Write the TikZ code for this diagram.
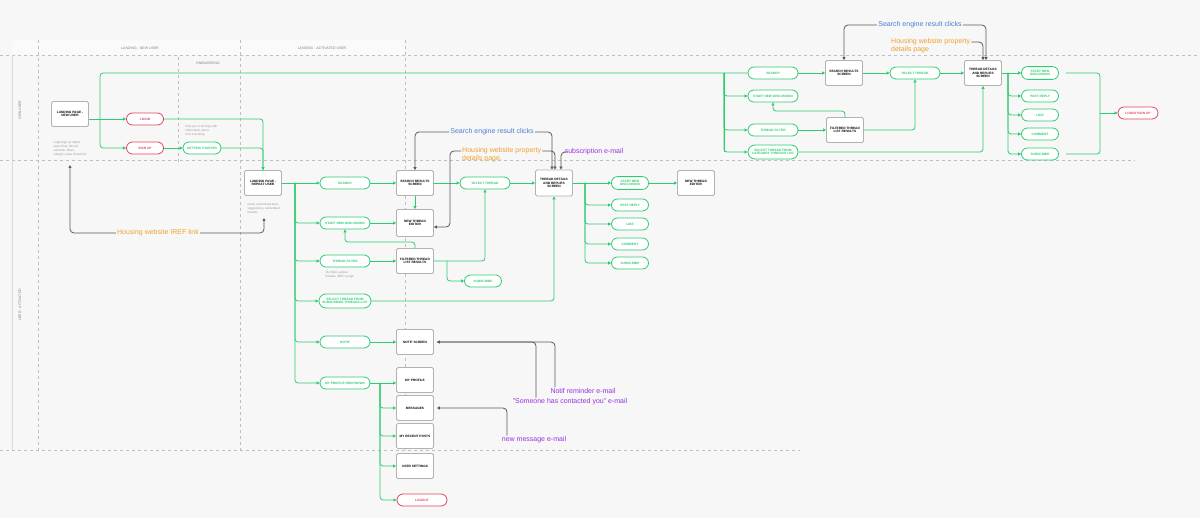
\documentclass[tikz,border=0pt]{standalone}
\usepackage{fontspec}
\setmainfont{Liberation Sans}
\usetikzlibrary{arrows.meta}
\definecolor{gr}{HTML}{2ECC71}
\definecolor{rd}{HTML}{E0455A}
\definecolor{bl}{HTML}{4A7FD6}
\definecolor{og}{HTML}{F0A030}
\definecolor{pu}{HTML}{9B30E0}
\definecolor{bg}{HTML}{F7F7F7}
\begin{document}
\begin{tikzpicture}[x=1pt,y=-1pt,
 tiny/.style={font=\fontsize{3.2}{3.8}\selectfont\bfseries},
 box/.style={draw=black!30,line width=0.8pt,fill=white,rounded corners=1.5pt,minimum width=37pt,minimum height=25pt,align=center,tiny,text=black},
 pill/.style={draw=gr,line width=0.8pt,fill=white,rounded corners=6pt,minimum width=50pt,minimum height=12pt,align=center,tiny,text=gr},
 rpill/.style={pill,draw=rd,text=rd},
 g/.style={draw=gr,line width=0.8pt,rounded corners=3pt,-{Triangle[length=3pt,width=3pt]}},
 gn/.style={draw=gr,line width=0.8pt,rounded corners=3pt},
 a/.style={draw=black!65,line width=0.8pt,rounded corners=4pt,-{Triangle[length=3pt,width=3pt]}},
 an/.style={draw=black!65,line width=0.8pt,rounded corners=4pt},
 lane/.style={draw=black!25,dashed,line width=0.5pt},
 note/.style={font=\fontsize{3}{4}\selectfont,text=black!40,align=left,anchor=north west},
 hdr/.style={font=\fontsize{3.5}{4}\selectfont,text=black!50},
 ann/.style={font=\fontsize{7}{8}\selectfont,inner sep=1pt}]
\fill[bg] (0,0) rectangle (1200,518);
\useasboundingbox (0,0) rectangle (1200,518);
% lanes
\fill[white!40!bg] (12,40) rectangle (405,55);
\draw[lane] (0,55) -- (1200,55);
\draw[lane] (0,160) -- (1135,160);
\draw[lane] (0,450) -- (800,450);
\draw[lane] (38,40) -- (38,450);
\draw[lane] (240,40) -- (240,450);
\draw[lane] (405,40) -- (405,450);
\draw[lane] (178,57) -- (178,165);
\draw[black!15] (12,55) -- (12,450);
\node[hdr] (h1) at (140,48) {LANDING · NEW USER};
\node[hdr] (h2) at (322,48) {LANDING · ACTIVATED USER};
\node[hdr] (h3) at (208,63) {ONBOARDING};
\node[hdr,rotate=90] (l1) at (20,110) {NEW USER};
\node[hdr,rotate=90] (l2) at (20,305) {USER · ACTIVATED};
% new user lane
\node[box] (landN) at (70,114) {LANDING PAGE -\\NEW USER};
\node[rpill,minimum width=37pt] (login) at (145,119) {LOGIN};
\node[rpill,minimum width=37pt] (signup) at (145,148) {SIGN UP};
\node[pill,minimum width=38pt] (gs) at (202,148) {GETTING STARTED};
\node[note] (n1) at (50,138) {Login/sign up option,\\search bar, thread\\selection, filters,\\category view, thread list};
\node[note] (n2) at (182,122) {Pop ups or tool tips with\\information about\\how it working};
% activated lane
\node[box] (landR) at (263,183) {LANDING PAGE -\\REPEAT USER};
\node[note] (n3) at (244,200) {newly customized feed,\\suggestions, subscribed\\threads};
\node[pill] (search) at (345,183) {SEARCH};
\node[box] (sres) at (415,183) {SEARCH RESULTS\\SCREEN};
\node[box,minimum height=27pt] (nte) at (415,223) {NEW THREAD\\EDITOR};
\node[pill] (snd) at (345,223) {START NEW DISCUSSION};
\node[pill] (tf) at (345,261) {THREAD FILTER};
\node[note] (n4) at (322,268) {city filters, global\\threads, IREF lounge};
\node[box] (ftl) at (415,261) {FILTERED THREAD\\LIST RESULTS};
\node[pill,minimum width=37pt] (sub1) at (483,281) {SUBSCRIBE};
\node[pill] (st) at (485,183) {SELECT THREAD};
\node[pill,minimum height=14pt,rounded corners=7pt] (sst) at (345,301) {SELECT THREAD FROM\\SUBSCRIBED THREADS LIST};
\node[box,minimum height=26pt] (td) at (554,183) {THREAD DETAILS\\AND REPLIES\\SCREEN};
\node[pill,minimum width=37pt] (snd2) at (630,183) {START NEW\\DISCUSSION};
\node[box] (nte2) at (696,183) {NEW THREAD\\EDITOR};
\node[pill,minimum width=37pt] (pr) at (630,205) {POST REPLY};
\node[pill,minimum width=37pt] (lk) at (630,224) {LIKE};
\node[pill,minimum width=37pt] (cm) at (630,244) {COMMENT};
\node[pill,minimum width=37pt] (sb2) at (630,263) {SUBSCRIBE};
\node[pill] (notif) at (345,342) {NOTIF};
\node[box] (ns) at (415,342) {NOTIF SCREEN};
\node[pill] (mpd) at (345,383) {MY PROFILE DROPDOWN};
\node[box] (mp) at (415,380) {MY PROFILE};
\node[box] (msg) at (415,408) {MESSAGES};
\node[box] (mrp) at (415,436) {MY RECENT POSTS};
\node[box] (us) at (415,466) {USER SETTINGS};
\node[rpill] (lo) at (422,500) {LOGOUT};
% right new-user area
\node[pill] (searchB) at (773,73) {SEARCH};
\node[box] (sresB) at (844,73) {SEARCH RESULTS\\SCREEN};
\node[pill] (stB) at (915,73) {SELECT THREAD};
\node[box] (tdB) at (983,73) {THREAD DETAILS\\AND REPLIES\\SCREEN};
\node[pill] (sndB) at (773,96) {START NEW DISCUSSION};
\node[pill] (tfB) at (773,130) {THREAD FILTER};
\node[box] (ftlB) at (845,130) {FILTERED THREAD\\LIST RESULTS};
\node[pill,minimum height=14pt,rounded corners=7pt] (scB) at (773,152) {SELECT THREAD FROM\\CATEGORY THREADS LIST};
\node[pill,minimum width=37pt] (snd3) at (1040,73) {START NEW\\DISCUSSION};
\node[pill,minimum width=37pt] (pr3) at (1040,96) {POST REPLY};
\node[pill,minimum width=37pt] (lk3) at (1040,115) {LIKE};
\node[pill,minimum width=37pt] (cm3) at (1040,134) {COMMENT};
\node[pill,minimum width=37pt] (sb3) at (1040,154) {SUBSCRIBE};
\node[rpill,minimum width=40pt] (ls) at (1138,113) {LOGIN/ SIGN UP};
% junctions
\coordinate (j1) at (100,119);
\coordinate (j2) at (295,183);
\coordinate (j3) at (585,183);
\coordinate (j4) at (380,383);
\coordinate (j5) at (724,73);
\coordinate (j6) at (1008,73);
\coordinate (j7) at (1100,113);
\coordinate (j8) at (447,261);
% green connectors new user
\draw[g] (landN.east |- login) -- (login.west);
\draw[gn] (j1) |- (searchB.west);
\draw[g] (j1) |- (signup.west);
\draw[g] (login.east) -| (landR.north);
\draw[g] (signup.east) -- (gs.west);
\draw[gn] (gs.east) -| (landR.north);
% activated
\draw[gn] (landR.east) -- (j2);
\draw[g] (j2) -- (search.west);
\foreach \t in {snd,tf,sst,notif,mpd} \draw[g] (j2) |- (\t.west);
\draw[g] (search.east) -- (sres.west);
\draw[g] (sres.east) -- (st.west);
\draw[g] (sres.south) -- (nte.north);
\draw[g] (snd.east) -- (nte.west);
\draw[g] (tf.east) -- (ftl.west);
\draw[g] (ftl.north) -- ++(0,-6) -| (snd.south);
\draw[g] (ftl.east) -| (st.south);
\draw[g] (j8) |- (sub1.west);
\draw[g] (st.east) -- (td.west);
\draw[g] (sst.east) -| (td.south);
\draw[gn] (td.east) -- (j3);
\draw[g] (j3) -- (snd2.west);
\foreach \t in {pr,lk,cm,sb2} \draw[g] (j3) |- (\t.west);
\draw[g] (snd2.east) -- (nte2.west);
\draw[g] (notif.east) -- (ns.west);
\draw[g] (mpd.east) -- (mp.west |- mpd);
\foreach \t in {msg,mrp,us,lo} \draw[g] (j4) |- (\t.west);
% right area
\draw[gn] (j5) -- ++(0,79);
\foreach \t in {sndB,tfB,scB} \draw[g] (j5) |- (\t.west);
\draw[g] (searchB.east) -- (sresB.west);
\draw[g] (sresB.east) -- (stB.west);
\draw[g] (stB.east) -- (tdB.west);
\draw[g] (tfB.east) -- (ftlB.west);
\draw[g] (ftlB.north) -- ++(0,-6) -| (sndB.south);
\draw[g] (ftlB.east) -| (stB.south);
\draw[g] (scB.east) -| (tdB.south);
\draw[gn] (tdB.east) -- (j6);
\draw[g] (j6) -- (snd3.west);
\foreach \t in {pr3,lk3,cm3,sb3} \draw[g] (j6) |- (\t.west);
\draw[gn] ([xshift=7pt]snd3.east) -| (j7);
\draw[gn] ([xshift=7pt]sb3.east) -| (j7);
\draw[g] (j7) -- (ls.west);
% annotations right
\node[ann,text=bl] (seB) at (920,25) {Search engine result clicks};
\node[ann,text=og,align=left,anchor=west] (hwB) at (890,46) {Housing website property\\details page};
\draw[a] (seB.west) -| (sresB.north);
\draw[a] (seB.east) -| ([xshift=3pt]tdB.north);
\draw[a] ([yshift=4pt]hwB.east) -| (tdB.north);
% annotations middle
\node[ann,text=bl] (seA) at (492,132) {Search engine result clicks};
\node[ann,text=og,align=left,anchor=west] (hwA) at (461,155) {Housing website property\\details page.};
\node[ann,text=pu] (se) at (594,152) {subscription e-mail};
\draw[a] (seA.west) -| (sres.north);
\draw[a] (seA.east) -| ([xshift=-2pt]td.north);
\draw[a] ([yshift=4pt]hwA.west) -- ++(-11,0) |- ([yshift=-4pt]nte.east);
\draw[a] ([yshift=4pt]hwA.east) -| ([xshift=1pt]td.north);
\draw[a] (se.west) -| ([xshift=7pt]td.north);
% IREF link
\node[ann,text=og] (iref) at (158,233) {Housing website IREF link};
\draw[a] (iref.west) -| (70,165);
\draw[a] (iref.east) -| (264,218);
% emails
\node[ann,text=pu] (nr) at (583,391) {Notif reminder e-mail};
\node[ann,text=pu] (sc) at (570,402) {"Someone has contacted you" e-mail};
\node[ann,text=pu] (nm) at (534,440) {new message e-mail};
\draw[an] ([xshift=-28pt]nr.north) |- ([xshift=3pt]ns.east);
\draw[a] ([xshift=-34pt]sc.north) |- ([xshift=3pt]ns.east);
\draw[a] ([xshift=-27pt]nm.north) |- ([xshift=3pt]msg.east);
\end{tikzpicture}
\end{document}
